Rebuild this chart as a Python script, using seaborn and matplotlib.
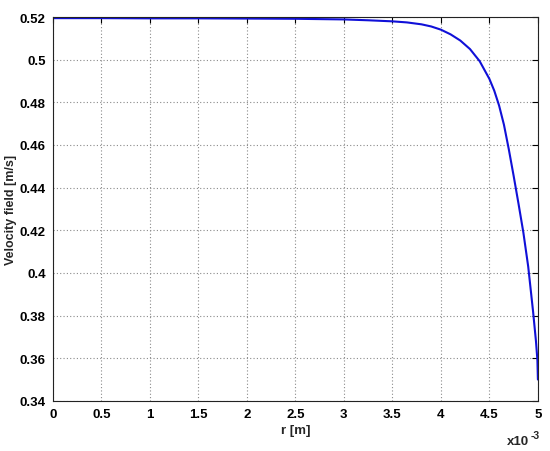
import numpy as np
import pandas as pd
import seaborn as sns
import matplotlib.pyplot as plt

# radial position (in units of 1e-3 m) and velocity
r_mm = [0, 0.5, 1.0, 1.5, 2.0, 2.5, 3.0, 3.25, 3.5, 3.65, 3.8, 3.9, 4.0,
        4.1, 4.2, 4.3, 4.4, 4.5, 4.55, 4.6, 4.65, 4.7, 4.75, 4.8, 4.85,
        4.9, 4.95, 4.98, 4.995, 5.0]
velocity = [0.5195, 0.5195, 0.5194, 0.5194, 0.5193, 0.5192, 0.5189, 0.5185,
            0.5180, 0.5175, 0.5166, 0.5156, 0.5141, 0.5119, 0.5090, 0.5050,
            0.4993, 0.4910, 0.4855, 0.4785, 0.4695, 0.4580, 0.4455, 0.4325,
            0.4190, 0.4030, 0.3820, 0.3680, 0.3590, 0.3500]
x_ticks = [0, 0.5, 1, 1.5, 2, 2.5, 3, 3.5, 4, 4.5, 5]
y_ticks = [0.34, 0.36, 0.38, 0.40, 0.42, 0.44, 0.46, 0.48, 0.50, 0.52]

df = pd.DataFrame({"r": r_mm, "v": velocity})

sns.set_style("white")
plt.rcParams['font.family'] = ['Liberation Sans', 'DejaVu Sans']
plt.rcParams['font.weight'] = 'bold'

fig = plt.figure(figsize=(5.5, 4.52), dpi=100)
ax = fig.add_axes([0.096, 0.111, 0.882, 0.849])

sns.lineplot(x="r", y="v", data=df, color="#1010d8", linewidth=1.5, ax=ax)

ax.set_xlim(0, 5)
ax.set_ylim(0.34, 0.52)
ax.set_xticks(x_ticks)
ax.set_xticklabels([f"{t:g}" for t in x_ticks])
ax.set_yticks(y_ticks)
ax.set_yticklabels([f"{t:g}" for t in y_ticks])
ax.grid(True, linestyle=(0, (1, 2)), color="#8a8a8a", linewidth=0.8)
ax.tick_params(direction="in", length=4, width=0.8, top=True, right=True,
               labelsize=9.5, pad=5, colors="black")
for s in ax.spines.values():
    s.set_color("#222222")
    s.set_linewidth(0.8)

ax.set_xlabel("r [m]", fontsize=9.5, fontweight="bold", labelpad=3)
ax.set_ylabel("Velocity field [m/s]", fontsize=9, fontweight="bold")
ax.yaxis.set_label_coords(-0.074, 0.5)

# exponent of the r axis, MATLAB style
ax.text(0.982, -0.105, "x10", transform=ax.transAxes, ha="right",
        va="center", fontsize=9.5, fontweight="bold")
ax.text(0.984, -0.088, "-3", transform=ax.transAxes, ha="left",
        va="center", fontsize=7.5, fontweight="bold")

fig.savefig("out.png", dpi=100)
